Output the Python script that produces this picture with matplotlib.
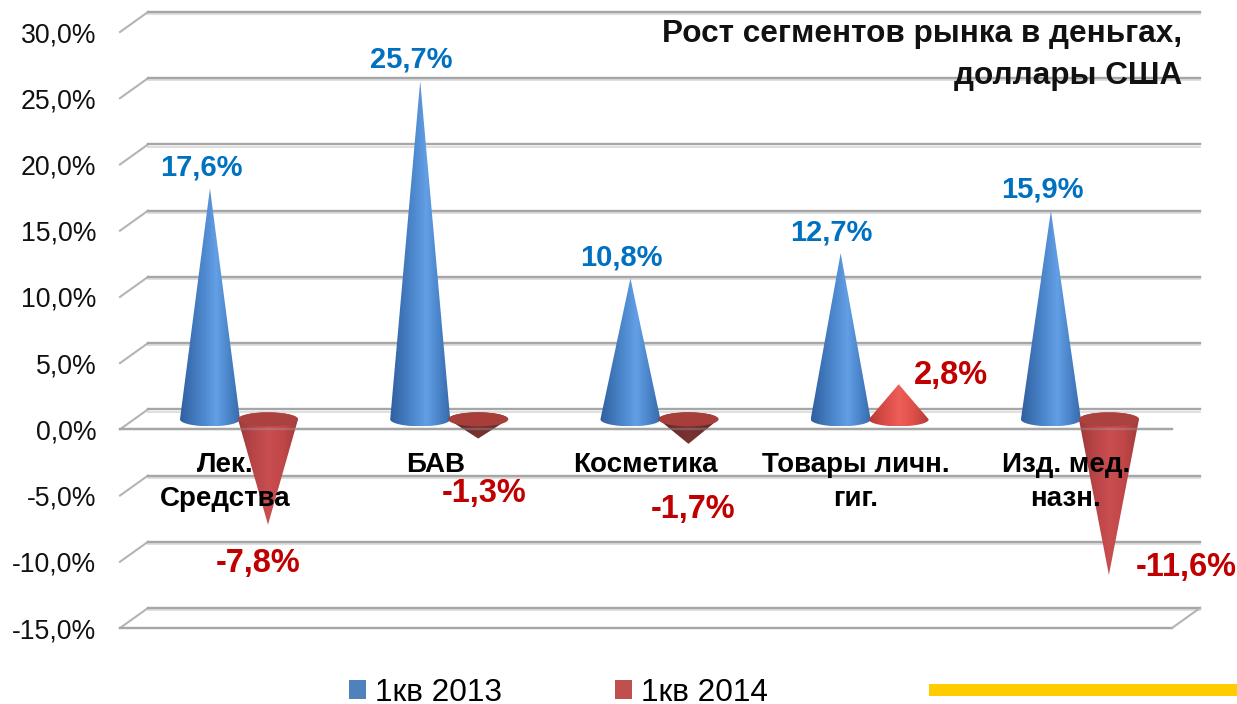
import numpy as np
import matplotlib
matplotlib.use("Agg")
import matplotlib.pyplot as plt
from matplotlib.colors import LinearSegmentedColormap
from matplotlib.patches import Ellipse, PathPatch, Patch, Rectangle
from matplotlib.path import Path
from matplotlib.transforms import Affine2D

plt.rcParams['font.family'] = ['Liberation Sans', 'DejaVu Sans']

# data
categories = ["Лек.\nСредства", "БАВ", "Косметика", "Товары личн.\nгиг.", "Изд. мед.\nназн."]
q1_2013 = [17.6, 25.7, 10.8, 12.7, 15.9]
q1_2014 = [-7.8, -1.3, -1.7, 2.8, -11.6]
yticks = [-15, -10, -5, 0, 5, 10, 15, 20, 25, 30]
series_names = ["1кв 2013", "1кв 2014"]
title = "Рост сегментов рынка в деньгах,\nдоллары США"

W, H = 1237, 704
fig = plt.figure(figsize=(W / 100, H / 100), dpi=100, facecolor='white')
# axes box = front plane of the fake 3d chart
ax = fig.add_axes([120 / W, 1 - 628 / H, 1052 / W, 596 / H])
ax.set_xlim(-0.428, 4.576)
ax.set_ylim(-15, 30)

PX = 1 / 210.2      # x units per pixel
PY = 45 / 596       # y units per pixel
dx, dy = 28 * PX, 20 * PY   # depth of the floor
base_y = 10 * PY
tip_lift = 8 * PY
half_w = 30 * PX
ell_h = 7 * PY
red_shift = 58 * PX

# grid
grid = '#a6a6a6'
xl, xr = ax.get_xlim()
shadow = ax.transData + Affine2D().translate(0, -2.2)
for t in yticks:
    ax.plot([xl + dx, xr + dx], [t + dy, t + dy], color='#dcdcdc', lw=1.3, zorder=1, clip_on=False,
            transform=shadow)
    ax.plot([xl, xl + dx], [t, t + dy], color='#b4b4b4', lw=1.5, zorder=1, clip_on=False)
    ax.plot([xl + dx, xr + dx], [t + dy, t + dy], color=grid, lw=1.7, zorder=1, clip_on=False)
for t in [-15, 0]:
    ax.plot([xl, xr], [t, t], color=grid, lw=1.7, zorder=1, clip_on=False)
ax.plot([xr, xr + dx], [-15, -15 + dy], color='#b4b4b4', lw=1.5, zorder=1, clip_on=False)

blue_map = LinearSegmentedColormap.from_list('b', ['#2f609f', '#3f75b8', '#4f8ad0', '#639fe4', '#4a84ca', '#356aa8'])
red_map = LinearSegmentedColormap.from_list('r', ['#9c3a38', '#b84446', '#c94e50', '#c04648', '#a03a38'])
dark_map = LinearSegmentedColormap.from_list('d', ['#5a2a2a', '#7a3230', '#5a2a2a'])
up_map = LinearSegmentedColormap.from_list('u', ['#b83a36', '#d84c46', '#ee5f58', '#dc4e48', '#b03834'])


def cone(x, value, cmap, rim_color=None):
    tip = value + tip_lift
    t = np.linspace(np.pi, 2 * np.pi, 40)
    ex = x + half_w * np.cos(t)
    ey = base_y + ell_h * np.sin(t) * (1 if value >= 0 else -1)
    verts = list(zip(ex, ey)) + [(x, tip), (ex[0], ey[0])]
    path = Path(verts, closed=True)
    grad = np.linspace(0, 1, 128).reshape(1, -1)
    ylo, yhi = min(tip, base_y - ell_h), max(tip, base_y + ell_h)
    im = ax.imshow(grad, cmap=cmap, extent=[x - half_w, x + half_w, ylo, yhi],
                   aspect='auto', zorder=3, interpolation='bilinear')
    clip = PathPatch(path, transform=ax.transData, fc='none', ec='none')
    ax.add_patch(clip)
    im.set_clip_path(clip)
    if value < 0:
        # flat rim seen from above
        ax.add_patch(Ellipse((x, base_y), 2 * half_w, 2 * ell_h, fc=rim_color, ec='none', zorder=3.2))


for i in range(len(categories)):
    cone(i, q1_2013[i], blue_map)
    v = q1_2014[i]
    if v >= 0:
        cone(i + red_shift, v, up_map)
    elif v > -3:
        cone(i + red_shift, v, dark_map, rim_color='#a83e3a')
    else:
        cone(i + red_shift, v, red_map, rim_color='#ab4240')

# zero line shows faintly through the cones
ax.plot([xl, xr], [0, 0], color=grid, lw=1.7, alpha=0.35, zorder=3.5)

ax.set_yticks(yticks)
ax.set_yticklabels([f"{t:.1f}".replace('.', ',') + "%" for t in yticks], fontsize=19.2, color='#111111')
ax.set_xticks([])
ax.tick_params(axis='y', length=0, pad=17)
for s in ax.spines.values():
    s.set_visible(False)
ax.patch.set_alpha(0)

# category names
for i, c in enumerate(categories):
    ax.text(i + 15 * PX, -1.72, c, ha='center', va='top', fontsize=20, fontweight='bold',
            color='black', linespacing=1.39, zorder=5)

# value labels, offsets in pixels from the cone tips
red_off = [(-10, -39), (6, -55), (5, -66), (52, 9), (77, 7)]
for i in range(len(categories)):
    ax.annotate(f"{q1_2013[i]:.1f}".replace('.', ',') + "%", (i, q1_2013[i] + tip_lift),
                xytext=(-9 * 0.72, 21 * 0.72), textcoords='offset points', ha='center', va='center',
                fontsize=21, fontweight='bold', color='#0070c0', zorder=6)
    ox, oy = red_off[i]
    ax.annotate(f"{q1_2014[i]:.1f}".replace('.', ',') + "%", (i + red_shift, q1_2014[i] + tip_lift),
                xytext=(ox * 0.72, oy * 0.72), textcoords='offset points', ha='center', va='center',
                fontsize=23.5, fontweight='bold', color='#c00000', zorder=6)

fig.text(1182 / W, 1 - 55 / H, title, ha='right', va='center', fontsize=22.7, fontweight='bold',
         color='#111111', linespacing=1.48)

# legend
handles = [Patch(fc='#4f81bd', ec='none'), Patch(fc='#c0504d', ec='none')]
fig.legend(handles, series_names, ncol=2, loc='center left', bbox_to_anchor=(349 / W, 1 - 693 / H),
           frameon=False, fontsize=22.7, handlelength=0.54, handleheight=0.54, handletextpad=0.28,
           columnspacing=3.6, borderpad=0, borderaxespad=0)

# yellow strip of the slide
fig.add_artist(Rectangle((929 / W, 1 - 696 / H), 308 / W, 12 / H, transform=fig.transFigure,
                         fc='#ffcc00', ec='none'))

fig.savefig("out.png", dpi=100)
